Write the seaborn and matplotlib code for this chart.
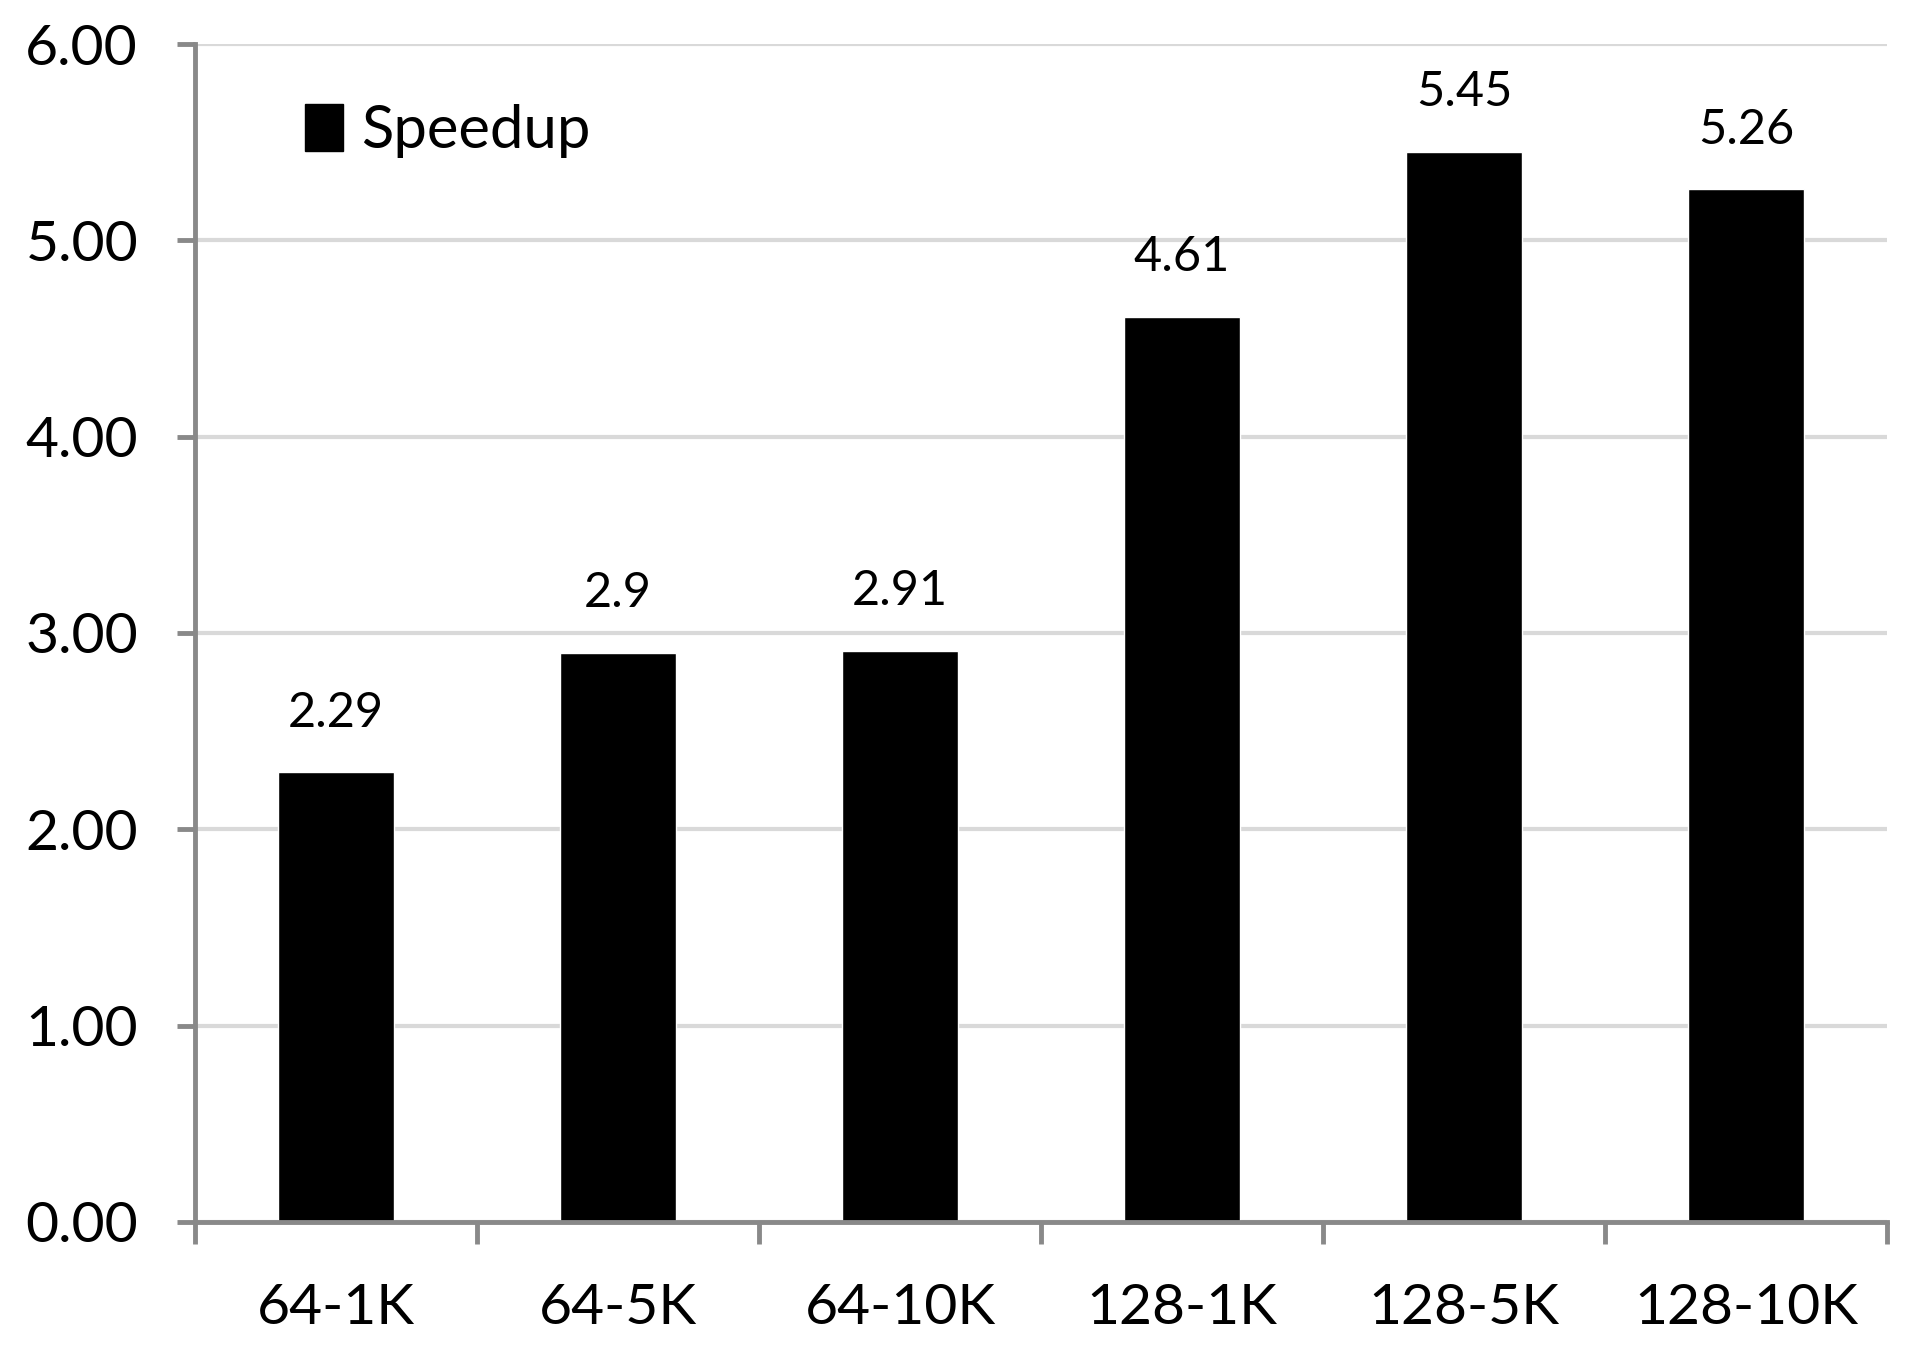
import matplotlib
matplotlib.use("Agg")
import matplotlib.pyplot as plt
import seaborn as sns
import pandas as pd
import numpy as np
from matplotlib.patches import Patch

categories = ["64-1K", "64-5K", "64-10K", "128-1K", "128-5K", "128-10K"]
speedup = [2.29, 2.9, 2.91, 4.61, 5.45, 5.26]
value_labels = ["2.29", "2.9", "2.91", "4.61", "5.45", "5.26"]
yticks = [0, 1, 2, 3, 4, 5, 6]

sns.set_style("white")
plt.rcParams["font.family"] = ["Lato", "DejaVu Sans"]
plt.rcParams["text.color"] = "black"

df = pd.DataFrame({"config": categories, "Speedup": speedup})

fig = plt.figure(figsize=(19.12, 13.54), dpi=100)
ax = fig.add_axes([0.102, 0.0975, 0.885, 0.87])

sns.barplot(data=df, x="config", y="Speedup", color="black", width=0.41,
            saturation=1, ax=ax, zorder=3)

ax.set_ylim(0, 6)
ax.set_xlim(-0.5, len(categories) - 0.5)
ax.set_yticks(yticks)
ax.set_yticklabels([f"{v:.2f}" for v in yticks])
ax.set_xlabel("")
ax.set_ylabel("")

ax.yaxis.grid(True, color="#d9d9d9", linewidth=3, zorder=0)
ax.set_axisbelow(True)

for s in ["top", "right"]:
    ax.spines[s].set_visible(False)
for s in ["left", "bottom"]:
    ax.spines[s].set_color("#898989")
    ax.spines[s].set_linewidth(3.5)
    ax.spines[s].set_zorder(4)

ax.tick_params(axis="y", which="major", length=13, width=3.5, color="#898989",
               labelsize=41, pad=28, direction="out", left=True, labelcolor="black")
ax.tick_params(axis="x", which="major", length=0, labelsize=41, pad=44,
               labelcolor="black")
ax.set_xticks(np.arange(-0.5, len(categories) + 0.5, 1), minor=True)
ax.tick_params(axis="x", which="minor", length=16, width=3.5, color="#898989",
               direction="out", bottom=True)

for i, (v, lab) in enumerate(zip(speedup, value_labels)):
    ax.annotate(lab, xy=(i, v), xytext=(0, 27), textcoords="offset points",
                ha="center", va="bottom", fontsize=35, color="black")

handles = [Patch(facecolor="black", edgecolor="black", label="Speedup")]
ax.legend(handles=handles, loc="upper left", bbox_to_anchor=(0.033, 0.995),
          frameon=False, fontsize=43, handlelength=0.65, handleheight=0.85,
          handletextpad=0.3, labelcolor="black")

fig.savefig("out.png", dpi=100, facecolor="white")
